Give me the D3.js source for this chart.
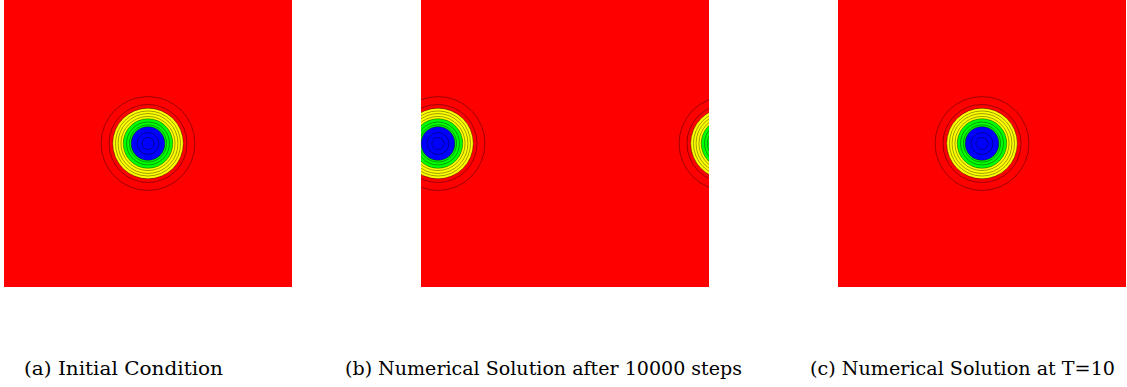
<!DOCTYPE html>
<html>
<head>
<meta charset="utf-8">
<script src="https://cdn.jsdelivr.net/npm/d3@7"></script>
<style>
    body { margin: 0; background: #fff; }
    svg { display: block; }
</style>
</head>
<body>
<script>
// Sub-figure captions
const captions = [
    '(a) Initial Condition',
    '(b) Numerical Solution after 10000 steps',
    '(c) Numerical Solution at T=10',
];

// Bump centre for each panel, in unit-square coordinates (domain is periodic)
const centerX = [0.5, 0.059, 0.5];
const centerY = [0.5, 0.5, 0.5];

// Filled bands: outer radius of each band (unit-square coordinates) and its colour
const bandRadii = [0.1225, 0.086, 0.0585];
const bandColors = ['#ffff00', '#00ff00', '#0000ff'];
const backgroundColor = '#ff0000';

// Contour line radii
const contourRadii = [
    0.163, 0.1355, 0.1225, 0.113, 0.104, 0.094, 0.086, 0.0745, 0.0645,
    0.0585, 0.038, 0.021,
];

// Layout
const width = 1127;
const height = 387;
const panelLeft = [4, 421, 838];
const panelSize = { w: 288, h: 287 };
const captionLeft = [24, 345, 810];
const captionWidth = [199, 397, 305];

const svg = d3
    .select('body')
    .append('svg')
    .attr('width', width)
    .attr('height', height);

svg.append('rect')
    .attr('width', width)
    .attr('height', height)
    .attr('fill', '#fff');

captions.forEach((caption, i) => {
    // Scales for this panel: unit square -> pixels
    const xScale = d3
        .scaleLinear()
        .domain([0, 1])
        .range([panelLeft[i], panelLeft[i] + panelSize.w]);
    const yScale = d3
        .scaleLinear()
        .domain([0, 1])
        .range([panelSize.h, 0]);
    const rScale = d3.scaleLinear().domain([0, 1]).range([0, panelSize.w]);

    const clipId = 'clip-' + i;
    svg.append('clipPath')
        .attr('id', clipId)
        .append('rect')
        .attr('x', xScale(0))
        .attr('y', yScale(1))
        .attr('width', xScale(1) - xScale(0))
        .attr('height', yScale(0) - yScale(1));

    const panel = svg.append('g').attr('clip-path', 'url(#' + clipId + ')');

    panel
        .append('rect')
        .attr('x', xScale(0))
        .attr('y', yScale(1))
        .attr('width', xScale(1) - xScale(0))
        .attr('height', yScale(0) - yScale(1))
        .attr('fill', backgroundColor);

    // periodic copies so the bump wraps round the edges
    const copies = [-1, 0, 1].map((k) => centerX[i] + k);

    copies.forEach((cx) => {
        panel
            .selectAll(null)
            .data(bandRadii)
            .enter()
            .append('circle')
            .attr('cx', xScale(cx))
            .attr('cy', yScale(centerY[i]))
            .attr('r', (d) => rScale(d))
            .attr('fill', (d, j) => bandColors[j]);

        panel
            .selectAll(null)
            .data(contourRadii)
            .enter()
            .append('circle')
            .attr('cx', xScale(cx))
            .attr('cy', yScale(centerY[i]))
            .attr('r', (d) => rScale(d))
            .attr('fill', 'none')
            .attr('stroke', '#000')
            .attr('stroke-opacity', 0.7)
            .attr('stroke-width', 0.55);
    });

    svg.append('text')
        .attr('x', captionLeft[i])
        .attr('y', 375)
        .attr('textLength', captionWidth[i])
        .attr('lengthAdjust', 'spacingAndGlyphs')
        .style('font-family', '"DejaVu Serif", "Liberation Serif", serif')
        .style('font-size', '18px')
        .attr('fill', '#000')
        .text(caption);
});
</script>
</body>
</html>
